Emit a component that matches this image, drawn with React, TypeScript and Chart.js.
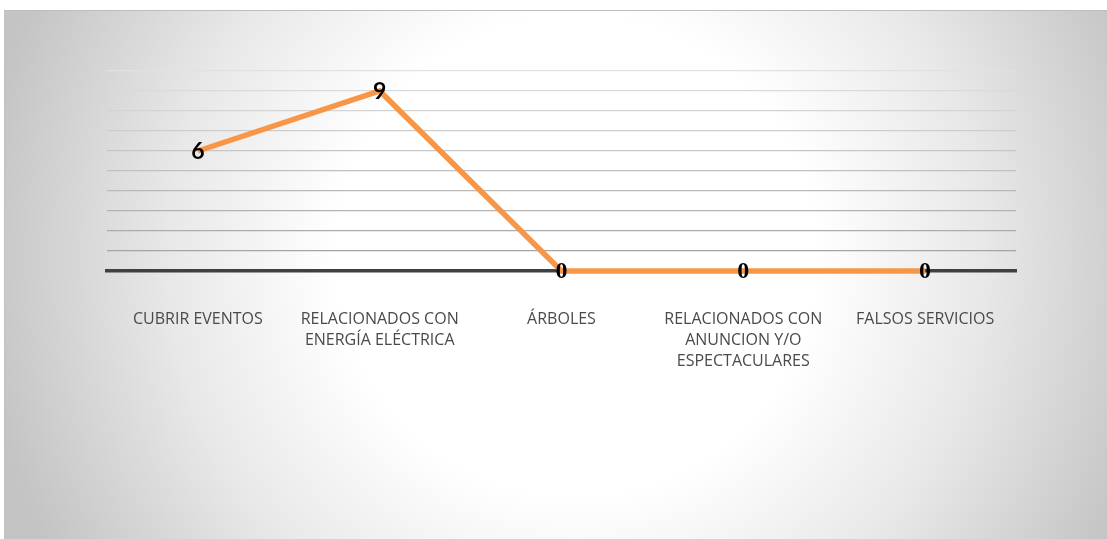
import React, { useEffect, useRef } from "react";
import { Chart, registerables } from "chart.js";

Chart.register(...registerables);

const categories: (string | string[])[] = [
  "CUBRIR EVENTOS",
  ["RELACIONADOS CON", "ENERGÍA ELÉCTRICA"],
  "ÁRBOLES",
  ["RELACIONADOS CON", "ANUNCION Y/O", "ESPECTACULARES"],
  "FALSOS SERVICIOS",
];
const values: number[] = [6, 9, 0, 0, 0];
const yMin = 0;
const yMax = 10;
const yStep = 1;

const W = 1102;
const H = 528;

const dataLabelPlugin = {
  id: "dataLabels",
  afterDatasetsDraw(chart: any) {
    const ctx = chart.ctx;
    const meta = chart.getDatasetMeta(0);
    const data = chart.data.datasets[0].data as number[];
    ctx.save();
    ctx.textAlign = "center";
    ctx.textBaseline = "middle";
    ctx.fillStyle = "#000000";
    meta.data.forEach((pt: any, i: number) => {
      const v = data[i];
      ctx.font = v === 0 ? 'bold 24px "Liberation Serif"' : "bold 23px Lato";
      ctx.fillText(String(v), pt.x, pt.y + 1);
    });
    ctx.restore();
  },
};

export default function App() {
  const ref = useRef<HTMLCanvasElement | null>(null);
  useEffect(() => {
    document.body.style.margin = "0";
    if (!ref.current) return;
    const chart = new Chart(ref.current, {
      type: "line",
      data: {
        labels: categories,
        datasets: [
          {
            data: values,
            borderColor: "#F79646",
            borderWidth: 5.5,
            pointRadius: 0,
            pointHoverRadius: 0,
            fill: false,
            tension: 0,
            clip: false as any,
          },
        ],
      },
      options: {
        animation: false,
        responsive: false,
        devicePixelRatio: 1,
        events: [],
        layout: { padding: { left: 102, right: 91, top: 61, bottom: 0 } },
        plugins: {
          legend: { display: false },
          tooltip: { enabled: false },
          title: { display: false },
        },
        scales: {
          x: {
            offset: true,
            grid: { display: false, drawTicks: false },
            border: { display: true, color: "#404040", width: 3.5 },
            ticks: {
              autoSkip: false,
              maxRotation: 0,
              minRotation: 0,
              padding: 38,
              color: "#4a4a4a",
              font: { family: '"Open Sans"', size: 16, lineHeight: 1.32 },
            },
            afterFit(scale: any) {
              scale.height = 267;
            },
          },
          y: {
            min: yMin,
            max: yMax,
            ticks: { stepSize: yStep, display: false },
            border: { display: false },
            grid: {
              drawTicks: false,
              lineWidth: 1.3,
              color: (c: any) => {
                const v = c.tick ? c.tick.value : 0;
                if (v === 0) return "rgba(0,0,0,0)";
                const t = (v - 1) / 9;
                const g = Math.round(165 + t * 60);
                return `rgb(${g},${g},${g})`;
              },
            },
            afterFit(scale: any) {
              scale.width = 0;
            },
          },
        },
      },
      plugins: [dataLabelPlugin],
    });
    return () => chart.destroy();
  }, []);

  return (
    <div
      style={{
        position: "absolute",
        left: 0,
        top: 0,
        width: 1107,
        height: 539,
        background: "#ffffff",
        overflow: "hidden",
      }}
    >
      <div
        style={{
          position: "absolute",
          left: 4,
          top: 10,
          width: W + 1,
          height: H,
          borderTop: "1px solid #bdbdbd",
          borderLeft: "1px solid #c2c2c2",
          background:
            "radial-gradient(circle 600px at 571px 245px, #ffffff 40%, #e8e8e8 68%, #c4c4c4 100%)",
        }}
      >
        <canvas
          ref={ref}
          width={W}
          height={H}
          style={{ position: "absolute", left: 0, top: -1, width: W, height: H }}
        />
      </div>
    </div>
  );
}
